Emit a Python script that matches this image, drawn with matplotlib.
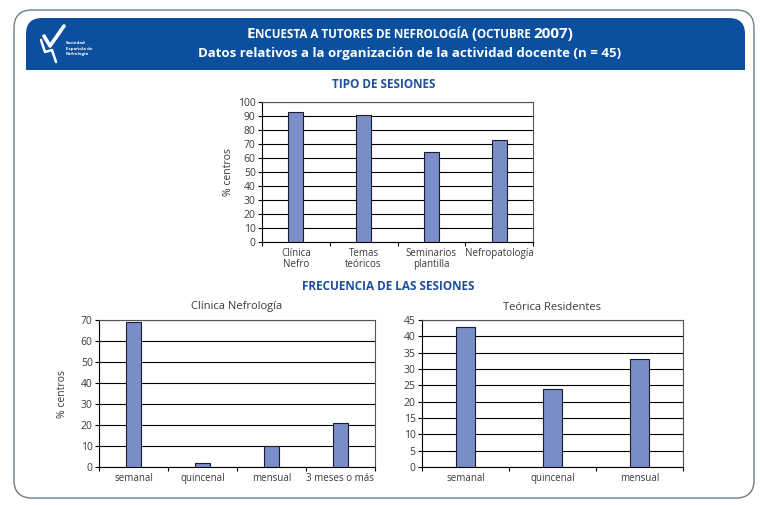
import matplotlib
matplotlib.use("Agg")
import matplotlib.pyplot as plt
from matplotlib.patches import FancyBboxPatch, Rectangle

# ---------------- data ----------------
tipo_cats = ["Clínica\nNefro", "Temas\nteóricos", "Seminarios\nplantilla", "Nefropatología"]
tipo_vals = [93, 91, 64, 73]
tipo_ticks = list(range(0, 101, 10))

clin_cats = ["semanal", "quincenal", "mensual", "3 meses o más"]
clin_vals = [69, 2, 10, 21]
clin_ticks = list(range(0, 71, 10))

teo_cats = ["semanal", "quincenal", "mensual"]
teo_vals = [43, 24, 33]
teo_ticks = list(range(0, 46, 5))

W, H = 760, 505
BLUE = "#0a509f"
BAR = "#7a8dc6"
TXT = "#3a3a3a"
FONT = ["Open Sans", "DejaVu Sans"]
plt.rcParams["font.family"] = FONT

fig = plt.figure(figsize=(W / 100, H / 100), dpi=100)
bg = fig.add_axes([0, 0, 1, 1], zorder=-10)
bg.set_xlim(0, W)
bg.set_ylim(H, 0)
bg.axis("off")

# outer frame
bg.add_patch(FancyBboxPatch((14, 10), 740, 488, boxstyle="round,pad=0,rounding_size=18",
                            fc="white", ec="#6f7c86", lw=1.0))
# header band
bg.add_patch(FancyBboxPatch((26, 18), 719, 52, boxstyle="round,pad=0,rounding_size=16",
                            fc=BLUE, ec="none"))
bg.add_patch(Rectangle((26, 45), 719, 25, fc=BLUE, ec="none"))

# logo (simple)
bg.plot([44, 50, 64], [36, 46, 26], color="white", lw=2.6, solid_capstyle="round")
bg.plot([41, 45, 52, 56], [40, 52, 50, 62], color="white", lw=1.8, solid_capstyle="round")
bg.text(66, 49, "Sociedad\nEspañola de\nNefrología", color="white", fontsize=3.2,
        fontweight="bold", va="center", ha="left", linespacing=1.5)

# header title with simulated small caps
renderer = fig.canvas.get_renderer()
def small_caps(pieces, xc, y):
    txts = []
    for s, fs in pieces:
        t = bg.text(0, y, s, color="white", fontsize=fs, fontweight="bold",
                    ha="left", va="baseline")
        txts.append(t)
    widths = [t.get_window_extent(renderer).width for t in txts]
    x = xc - sum(widths) / 2
    for t, w in zip(txts, widths):
        t.set_x(x)
        x += w

small_caps([("E", 11), ("NCUESTA A TUTORES DE NEFROLOGÍA ", 8.4), ("(", 11),
            ("OCTUBRE ", 8.4), ("2007)", 11)], 410, 38)
bg.text(410, 54, "Datos relativos a la organización de la actividad docente (n = 45)",
        color="white", fontsize=9.5, fontweight="bold", ha="center", va="center")

# section titles
bg.text(384, 84, "TIPO DE SESIONES", color="#1d4f9c", fontsize=8.5, fontweight="bold",
        ha="center", va="center")
bg.text(388, 286, "FRECUENCIA DE LAS SESIONES", color="#1d4f9c", fontsize=8.5,
        fontweight="bold", ha="center", va="center")
bg.text(237, 307, "Clínica Nefrología", color=TXT, fontsize=8, ha="center", va="center")
bg.text(552, 307, "Teórica Residentes", color=TXT, fontsize=8, ha="center", va="center")


def ax_px(l, t, r, b):
    return fig.add_axes([l / W, 1 - b / H, (r - l) / W, (b - t) / H])


def bar_chart(ax, cats, vals, ticks, width, ylabel=None, ylab_x=-0.13):
    n = len(cats)
    x = list(range(n))
    ax.bar(x, vals, width=width, color=BAR, edgecolor="#1c1c30", linewidth=0.8, zorder=3)
    ax.set_xlim(-0.5, n - 0.5)
    ax.set_ylim(ticks[0], ticks[-1])
    ax.set_yticks(ticks)
    ax.set_xticks(x)
    ax.set_xticklabels(cats, fontsize=7, color=TXT, linespacing=1.0)
    ax.set_xticks([i - 0.5 for i in range(n + 1)], minor=True)
    ax.tick_params(axis="x", which="major", length=0, pad=4)
    ax.tick_params(axis="x", which="minor", length=3, direction="out", width=0.8)
    ax.tick_params(axis="y", length=3, direction="out", width=0.8, labelsize=7.5,
                   labelcolor=TXT, pad=1.5)
    ax.yaxis.grid(True, color="black", lw=0.8, zorder=1)
    ax.set_axisbelow(True)
    for sp in ax.spines.values():
        sp.set_color("black")
        sp.set_linewidth(0.8)
    ax.spines["top"].set_color("#555555")
    ax.spines["right"].set_color("#555555")
    if ylabel:
        ax.set_ylabel(ylabel, fontsize=7.5, color=TXT)
        ax.yaxis.set_label_coords(ylab_x, 0.5)


ax1 = ax_px(262, 102, 533, 242)
bar_chart(ax1, tipo_cats, tipo_vals, tipo_ticks, 0.22, "% centros", (234 - 262) / 271)

ax2 = ax_px(99, 320, 375, 467)
bar_chart(ax2, clin_cats, clin_vals, clin_ticks, 0.23, "% centros", (68 - 99) / 276)

ax3 = ax_px(422, 320, 683, 467)
bar_chart(ax3, teo_cats, teo_vals, teo_ticks, 0.22)

fig.savefig("out.png", dpi=100)
